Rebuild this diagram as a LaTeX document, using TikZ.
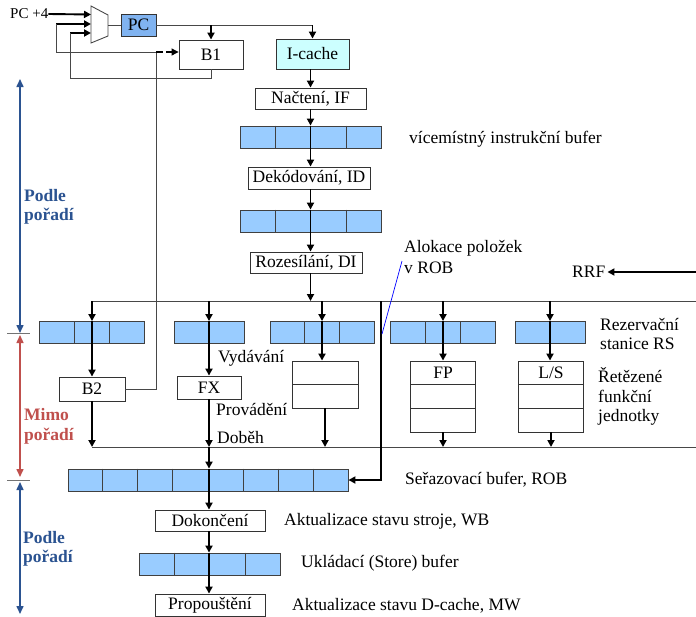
\documentclass[tikz,border=0pt]{standalone}
\usepackage{fontspec}
\setmainfont{Liberation Serif}
\usetikzlibrary{arrows.meta,calc}

\definecolor{bufblue}{HTML}{99CCFF}
\definecolor{pcblue}{HTML}{80B3F0}
\definecolor{cachecyan}{HTML}{CCFFFF}
\definecolor{inorder}{HTML}{2B5391}
\definecolor{outorder}{HTML}{C0504D}
\definecolor{wirecol}{HTML}{474747}

% dividers between the cells of a buffer node
\newcommand\bufcells[2]{%
  \pgfmathtruncatemacro\nbufdiv{#2-1}%
  \foreach \k in {1,...,\nbufdiv}{%
    \draw[cellline] ($(#1.north west)!\k/#2!(#1.north east)$) -- ($(#1.south west)!\k/#2!(#1.south east)$);}}

\begin{document}
\begin{tikzpicture}[x=1pt,y=-1pt,
  font=\fontsize{17.5}{19}\selectfont,
  tip/.style={-{Triangle[length=7pt,width=7pt]}},
  wire/.style={draw=wirecol,line width=0.9pt},
  flow/.style={draw=black,line width=1.9pt,tip},
  stage/.style={draw=black!80,line width=0.9pt,fill=white,inner sep=0pt},
  buffer/.style={draw=black!75,line width=0.9pt,fill=bufblue,inner sep=0pt,minimum height=22pt},
  cellline/.style={draw=black!75,line width=0.9pt},
  unitrow/.style={stage,minimum width=65pt,minimum height=23.6pt},
  lbl/.style={anchor=west,inner sep=0pt},
  span/.style={line width=1.5pt,{Triangle[length=8pt,width=7pt]}-{Triangle[length=8pt,width=7pt]}},
  tick/.style={draw=black!55,line width=0.9pt},
  phase/.style={lbl,font=\fontsize{17.5}{19}\selectfont\bfseries}
]
\fill[white] (0,0) rectangle (696,616);
\useasboundingbox (0,0) rectangle (696,616);

% ---------- ordering axis on the left ----------
\draw[span,inorder] (20,79) -- (20,333);
\draw[span,outorder] (20,335) -- (20,477);
\draw[span,inorder] (20,482) -- (20,614);
\draw[tick] (7,333) -- (30,333);
\draw[tick] (7,480) -- (30,480);
\node[phase,text=inorder] (podleA) at (24,196) {Podle};
\node[phase,text=inorder] (poradiA) at (24,216) {pořadí};
\node[phase,text=outorder] (mimo) at (24,415) {Mimo};
\node[phase,text=outorder] (poradiB) at (24,436) {pořadí};
\node[phase,text=inorder] (podleB) at (23,538) {Podle};
\node[phase,text=inorder] (poradiC) at (23,558) {pořadí};

% ---------- fetch: multiplexer, PC, B1, I-cache ----------
\draw[wire] (91,6) -- (108,15) -- (108,36) -- (91,43) -- cycle;
\coordinate (muxout) at (108,25);
\coordinate (muxin1) at (91,14.5);
\coordinate (muxin2) at (91,24);
\coordinate (muxin3) at (91,33);
\coordinate (in2) at (56,24);
\coordinate (in3) at (70,33);
\coordinate (junc) at (156,52);

\node[lbl,font=\fontsize{15}{17}\selectfont] (pc4) at (10,14) {PC +4};
\node[stage,fill=pcblue,minimum width=35pt,minimum height=22pt] (pc) at (138.5,25) {PC};
\node[stage,minimum width=64pt,minimum height=29pt] (b1) at (211,54.5) {B1};
\node[stage,fill=cachecyan,minimum width=73pt,minimum height=30pt] (icache) at (312.5,54) {I-cache};

\draw[flow] (pc4.east) -- (muxin1);
\draw[flow] (in2) -- (muxin2);
\draw[flow] (in3) -- (muxin3);
\draw[wire] (muxout) -- (pc.west);
\draw[wire] (pc.east) -- (pc.east -| icache.north);
\draw[flow] (pc.east -| icache.north) -- (icache.north);
\draw[flow] (pc.east -| b1.north) -- (b1.north);
\draw[wire] (b1.south) -- ++(0,9) -| (in3);
\draw[wire] (in2) |- (junc);

% ---------- in-order front end ----------
\node[stage,minimum width=111pt,minimum height=21pt] (nacteni) at (310.5,98.5) {Načtení, IF};
\node[buffer,minimum width=141pt] (ifbuf) at (310.5,137) {};
\bufcells{ifbuf}{4}
\node[stage,minimum width=122pt,minimum height=22pt] (dekod) at (309,178) {Dekódování, ID};
\node[buffer,minimum width=141pt] (idbuf) at (310.5,221) {};
\bufcells{idbuf}{4}
\node[stage,minimum width=112pt,minimum height=21pt] (rozes) at (306,262.5) {Rozesílání, DI};

\draw[flow] (icache.south -| nacteni.north) -- (nacteni.north);
\draw[flow] (nacteni.south) -- (ifbuf.north);
\draw[flow] (ifbuf.north) -- (ifbuf.north |- dekod.north);
\draw[flow] (ifbuf.north |- dekod.south) -- (idbuf.north);
\draw[flow] (idbuf.north) -- (idbuf.north |- rozes.north);

\node[lbl] (vicemist) at (409,139) {vícemístný instrukční bufer};

% ---------- dispatch bus and reservation stations ----------
\coordinate (busL) at (92,301);
\coordinate (busR) at (696,301);
\draw[wire] (busL) -- (busR);
\draw[flow] (idbuf.south |- rozes.south) -- (idbuf.south |- busL);

\node[buffer,minimum width=105pt] (rs1) at (92,332.5) {};
\bufcells{rs1}{3}
\node[buffer,minimum width=70pt] (rs2) at (209,332.5) {};
\bufcells{rs2}{2}
\node[buffer,minimum width=104pt] (rs3) at (322,332.5) {};
\bufcells{rs3}{3}
\node[buffer,minimum width=105pt] (rs4) at (443,332.5) {};
\bufcells{rs4}{3}
\node[buffer,minimum width=70pt] (rs5) at (550,332.5) {};
\bufcells{rs5}{2}

\foreach \r in {rs1,rs2,rs3,rs4,rs5}{
  \draw[flow] (\r.north |- busL) -- (\r.north);}

\node[lbl] (rezerv) at (600,324) {Rezervační};
\node[lbl] (stanice) at (600,344) {stanice RS};

% ---------- functional units ----------
\node[stage,minimum width=66pt,minimum height=24pt] (b2) at (92,389) {B2};
\node[stage,minimum width=64pt,minimum height=23pt] (fx) at (209,387.5) {FX};
\node[unitrow,minimum width=66pt,minimum height=23.5pt] (u3a) at (325,372.75) {};
\node[unitrow,minimum width=66pt,minimum height=23.5pt] (u3b) at (325,396.25) {};
\node[unitrow] (fpa) at (443,372.8) {FP};
\node[unitrow] (fpb) at (443,396.5) {};
\node[unitrow] (fpc) at (443,420.2) {};
\node[unitrow] (lsa) at (551,372.8) {L/S};
\node[unitrow] (lsb) at (551,396.5) {};
\node[unitrow] (lsc) at (551,420.2) {};

\draw[flow] (rs1.north) -- (b2.north);
\draw[flow] (rs2.north) -- (fx.north);
\draw[flow] (rs3.north) -- (rs3.north |- u3a.north);
\draw[flow] (rs4.north) -- (fpa.north);
\draw[flow] (rs5.north) -- (rs5.north |- lsa.north);

% branch result feeds back to the fetch stage
\draw[wire] (b2.east) -| (junc);
\draw[black,line width=1.1pt,dash pattern=on 7pt off 3pt,tip] (junc) -- (junc -| b1.west);

\node[lbl] (vydavani) at (218,358) {Vydávání};
\node[lbl] (provadeni) at (216,409) {Provádění};
\node[lbl] (dobeh) at (217,437) {Doběh};
\node[lbl] (retez) at (598,375) {Řetězené};
\node[lbl] (funkcni) at (598,396) {funkční};
\node[lbl] (jednotky) at (598,417) {jednotky};

% ---------- result bus and reorder buffer ----------
\coordinate (resL) at (92,447);
\coordinate (resR) at (696,447);
\draw[wire] (resL) -- (resR);
\draw[flow] (b2.south) -- (b2.south |- resL);
\draw[flow] (fx.south) -- (fx.south |- resL);
\draw[flow] (u3b.south) -- (u3b.south |- resL);
\draw[flow] (fpc.south) -- (fpc.south |- resL);
\draw[flow] (lsc.south) -- (lsc.south |- resL);

\node[buffer,minimum width=280pt] (rob) at (208,480) {};
\bufcells{rob}{8}
\draw[flow] (fx.south |- resL) -- (fx.south |- rob.north);

% ROB entries allocated at dispatch
\coordinate (allocTop) at (381,301);
\draw[black,line width=2.6pt,tip] (allocTop) |- (rob.east);
\coordinate (allocA) at (382,334);
\coordinate (allocB) at (402,261);
\draw[blue,line width=0.7pt] (allocA) -- (allocB);
\node[lbl] (alokace) at (404,248) {Alokace položek};
\node[lbl] (vrob) at (404,268) {v ROB};

\node[lbl] (rrf) at (572,272) {RRF};
\coordinate (rrfsrc) at (696,272);
\draw[flow,shorten >=2pt] (rrfsrc) -- (rrf.east);

\node[lbl] (robtxt) at (405,480) {Seřazovací bufer, ROB};

% ---------- in-order completion ----------
\node[stage,minimum width=110pt,minimum height=21pt] (dokon) at (210,520.5) {Dokončení};
\node[buffer,minimum width=141pt] (store) at (209.5,564) {};
\bufcells{store}{4}
\node[stage,minimum width=110pt,minimum height=22pt] (propust) at (210,605) {Propouštění};

\draw[flow] (fx.south |- rob.north) -- (fx.south |- dokon.north);
\draw[flow] (fx.south |- dokon.south) -- (fx.south |- store.north);
\draw[flow] (fx.south |- store.north) -- (fx.south |- propust.north);

\node[lbl] (wb) at (284,521) {Aktualizace stavu stroje, WB};
\node[lbl] (storetxt) at (301,563) {Ukládací (Store) bufer};
\node[lbl] (mw) at (292,606) {Aktualizace stavu D-cache, MW};
\end{tikzpicture}
\end{document}
